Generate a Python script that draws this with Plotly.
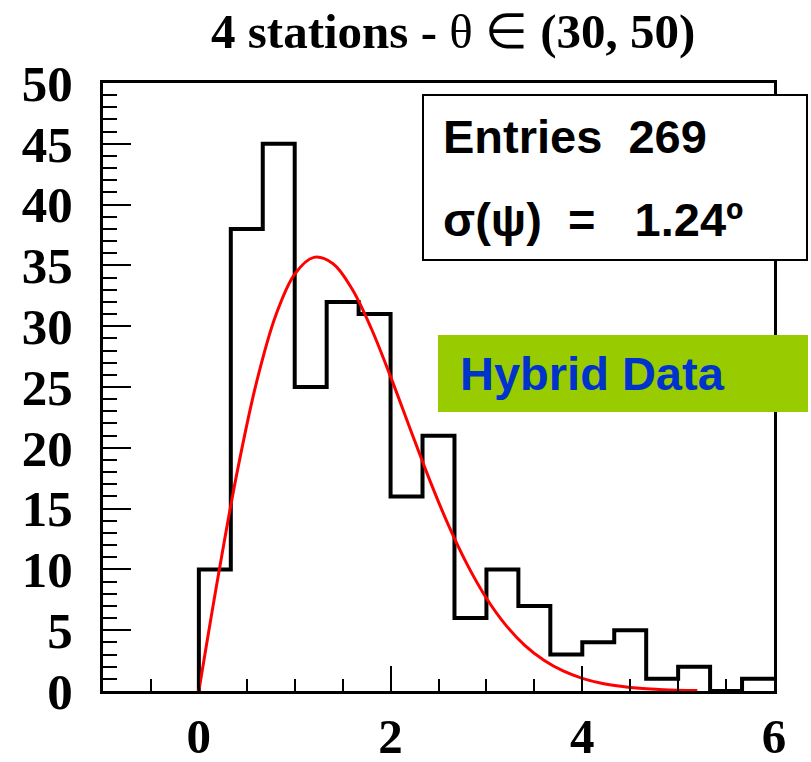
import plotly.graph_objects as go

# ---- data ----
bin_width = 1.0 / 3.0
counts = [10, 38, 45, 25, 32, 31, 16, 21, 6, 10, 7, 3, 4, 5, 1, 2, 0, 1]
bin_edges = [i * bin_width for i in range(len(counts) + 1)]

fit_x = [0.0, 0.2, 0.4, 0.6, 0.8, 1.0, 1.2, 1.4, 1.6, 1.8, 2.0, 2.2, 2.4, 2.6,
         2.8, 3.0, 3.2, 3.4, 3.6, 3.8, 4.0, 4.2, 4.4, 4.6, 4.8, 5.0, 5.2]
fit_y = [0.0, 9.37, 18.03, 25.34, 30.84, 34.29, 35.66, 35.14, 33.04, 29.79,
         25.85, 21.65, 17.51, 13.70, 10.39, 7.63, 5.44, 3.76, 2.53, 1.65,
         1.04, 0.64, 0.39, 0.22, 0.13, 0.07, 0.04]

x_ticks = [0, 2, 4, 6]
y_ticks = [0, 5, 10, 15, 20, 25, 30, 35, 40, 45, 50]

title_text = "<b>4 stations - </b>θ ∈ <b>(30, 50)</b>"
entries_text = "<b>Entries\u00a0\u00a0269</b>"
sigma_text = "<b>σ(ψ)\u00a0\u00a0=\u00a0\u00a0\u00a01.24º</b>"
label_text = "<b>Hybrid Data</b>"

# ---- figure ----
hist_x = [bin_edges[0]] + bin_edges[:-1] + [bin_edges[-1]]
hist_y = [0] + counts + [counts[-1]]

fig = go.Figure()
fig.add_trace(go.Scatter(x=hist_x, y=hist_y, mode="lines", line_shape="hv",
                         line=dict(color="black", width=4), showlegend=False,
                         hoverinfo="skip"))
fig.add_trace(go.Scatter(x=fit_x, y=fit_y, mode="lines", line_shape="spline",
                         line=dict(color="#ff0000", width=3), showlegend=False,
                         hoverinfo="skip"))

L, R, T, B = 103, 37, 83, 71
W, H = 811, 762
pw, ph = W - L - R, H - T - B


def px(xp):
    return (xp - L) / pw


def py(yp):
    return (H - B - yp) / ph


tickfont = dict(family="Liberation Serif", size=51, color="black", weight="bold")
xtickfont = dict(family="Liberation Serif", size=49, color="black", weight="bold")

fig.update_layout(
    width=W, height=H,
    margin=dict(l=L, r=R, t=T, b=B, pad=0, autoexpand=False),
    paper_bgcolor="white", plot_bgcolor="white",
    xaxis=dict(range=[-1, 6], tickvals=x_ticks, ticks="inside", ticklen=25,
               tickwidth=1.5, tickcolor="black",
               minor=dict(dtick=0.5, tick0=0, ticks="inside", ticklen=12,
                          tickwidth=1.5, tickcolor="black"),
               showline=True, linecolor="black", linewidth=3, mirror=True,
               showgrid=False, zeroline=False, tickfont=xtickfont,
               ticklabelstandoff=0, automargin=False),
    yaxis=dict(range=[0, 50], tickvals=y_ticks, ticks="inside", ticklen=28,
               tickwidth=1.5, tickcolor="black",
               minor=dict(dtick=1, tick0=0, ticks="inside", ticklen=14,
                          tickwidth=1.5, tickcolor="black"),
               showline=True, linecolor="black", linewidth=3, mirror=True,
               showgrid=False, zeroline=False, tickfont=tickfont,
               ticklabelstandoff=17, automargin=False),
)

fig.add_annotation(text=title_text, xref="paper", yref="paper",
                   x=px(453), y=py(31), xanchor="center", yanchor="middle",
                   showarrow=False,
                   font=dict(family="Liberation Serif", size=49, color="black"))

# stats box
fig.add_shape(type="rect", xref="paper", yref="paper",
              x0=px(423), x1=px(807), y0=py(260), y1=py(95),
              line=dict(color="black", width=2), fillcolor="white", layer="above")
fig.add_annotation(text=entries_text, xref="paper", yref="paper",
                   x=px(441), y=py(136), xanchor="left", yanchor="middle",
                   showarrow=False,
                   font=dict(family="Liberation Sans", size=47, color="black"))
fig.add_annotation(text=sigma_text, xref="paper", yref="paper",
                   x=px(441), y=py(220), xanchor="left", yanchor="middle",
                   showarrow=False,
                   font=dict(family="Liberation Sans", size=47, color="black"))

# Hybrid Data label
fig.add_shape(type="rect", xref="paper", yref="paper",
              x0=px(438), x1=px(808), y0=py(412), y1=py(335),
              line=dict(width=0), fillcolor="#99cc00", layer="above")
fig.add_annotation(text=label_text, xref="paper", yref="paper",
                   x=px(458), y=py(374), xanchor="left", yanchor="middle",
                   showarrow=False,
                   font=dict(family="Liberation Sans", size=47, color="#0033cc"))

fig.write_html("out.html")
